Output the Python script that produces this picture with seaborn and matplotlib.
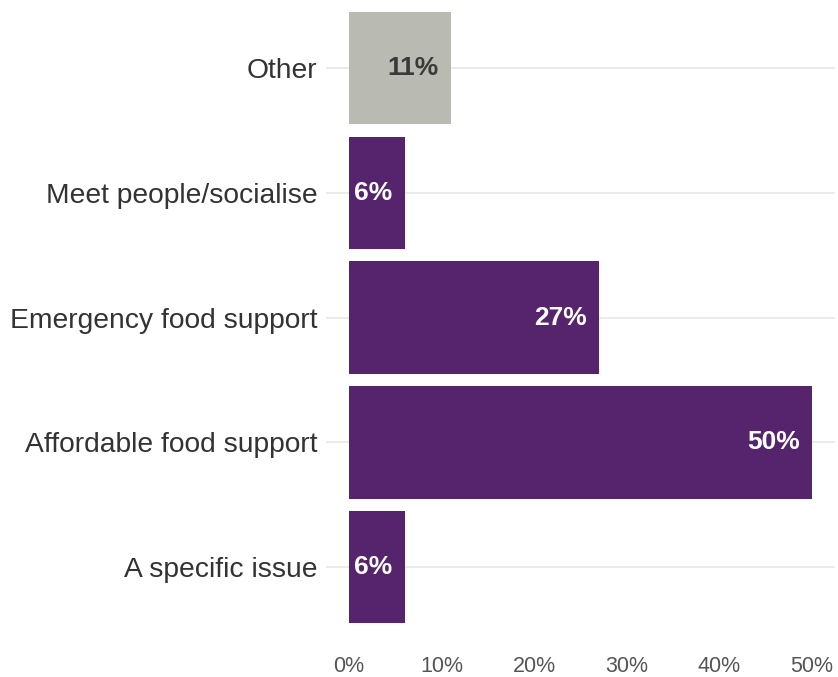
import matplotlib
matplotlib.use("Agg")
import matplotlib.pyplot as plt
import seaborn as sns
import pandas as pd

# Reasons for visiting, share of respondents (%)
categories = ["Other", "Meet people/socialise", "Emergency food support",
              "Affordable food support", "A specific issue"]
shares = [11, 6, 27, 50, 6]
bar_colors = ["#b9bab1", "#56236d", "#56236d", "#56236d", "#56236d"]
label_colors = ["#3a3a3a", "white", "white", "white", "white"]
x_ticks = [0, 10, 20, 30, 40, 50]
x_tick_labels = ["0%", "10%", "20%", "30%", "40%", "50%"]

df = pd.DataFrame({"category": categories, "share": shares})

sns.set_theme(style="white")
plt.rcParams["font.family"] = ["Liberation Sans", "DejaVu Sans"]

W, H = 838, 677
fig = plt.figure(figsize=(W / 100, H / 100), dpi=100)
# axes placed in pixel terms: panel spans x 326..835, y 0..642
ax = fig.add_axes([326 / W, 1 - 642 / H, 509 / W, 642 / H])

sns.barplot(data=df, x="share", y="category", hue="category",
            palette=dict(zip(categories, bar_colors)), legend=False,
            orient="h", width=0.9, saturation=1, linewidth=0, ax=ax)

ax.set_xlim(-2.5, 52.5)
ax.set_ylim(4.6, -0.545)
ax.set_xlabel("")
ax.set_ylabel("")

# horizontal guides at each category
for i in range(len(categories)):
    ax.axhline(i, color="#e9e9e9", lw=1.3, zorder=0)
ax.set_axisbelow(True)

for s in ax.spines.values():
    s.set_visible(False)
ax.grid(False)

ax.set_xticks(x_ticks)
ax.set_xticklabels(x_tick_labels, fontsize=15.5, color="#555555")
ax.tick_params(axis="x", length=0, pad=10)
ax.tick_params(axis="y", length=0, pad=6)
for t in ax.get_yticklabels():
    t.set_fontsize(20.3)
    t.set_color("#333333")

for i, (v, c) in enumerate(zip(shares, label_colors)):
    ax.text(v - 1.3, i, f"{v}%", ha="right", va="center",
            fontsize=19, fontweight="bold", color=c)

fig.savefig("out.png", dpi=100)
